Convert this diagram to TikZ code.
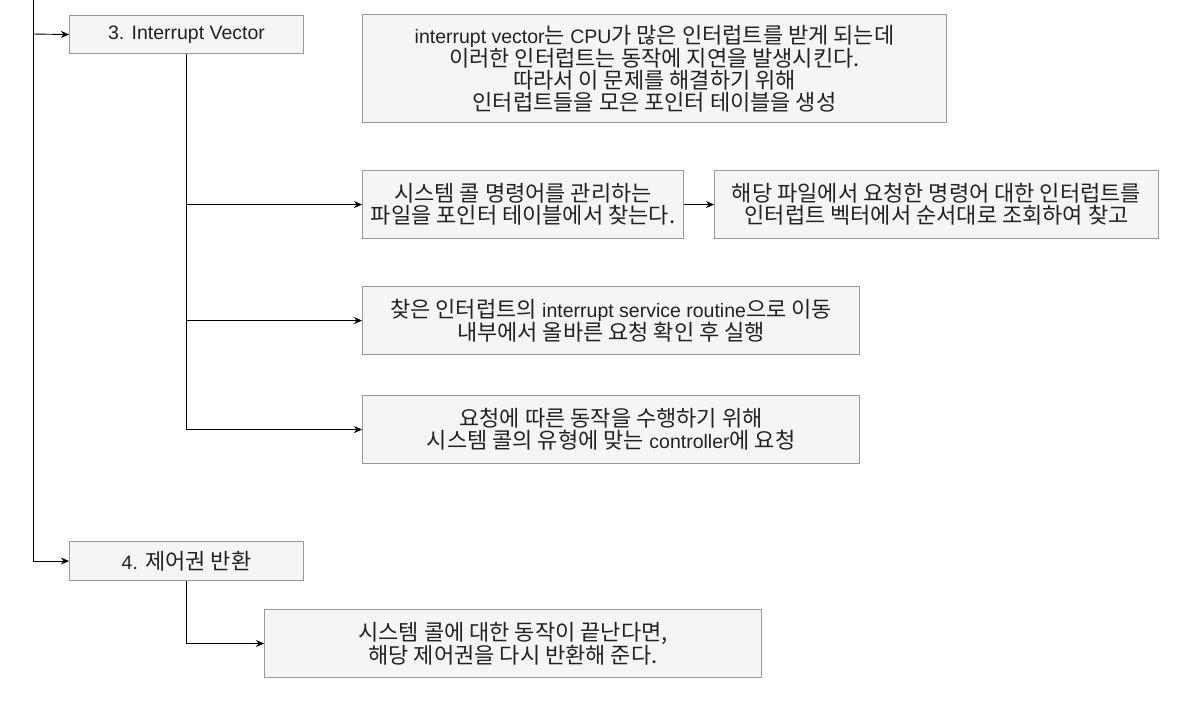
\documentclass[tikz,border=0pt]{standalone}
\usepackage{fontspec}
\setmainfont{Liberation Sans}
\newfontfamily\krfont{Noto Sans CJK KR}
\newcommand\K[1]{{\krfont\fontsize{22}{22}\selectfont #1}}
\usetikzlibrary{arrows.meta}
\definecolor{boxfill}{HTML}{F5F5F5}
\definecolor{boxline}{HTML}{999999}
\definecolor{txt}{HTML}{222222}
\tikzset{
  box/.style={draw=boxline, fill=boxfill, line width=1.1pt, inner sep=0pt,
    anchor=north west, align=center, text=txt,
    font=\fontsize{19.5}{22}\selectfont},
  conn/.style={draw=black, line width=0.9pt},
  arr/.style={conn, -{Stealth[length=8pt,width=7pt,inset=2.5pt]}}
}
\begin{document}
\begin{tikzpicture}[x=1pt,y=-1pt]
\useasboundingbox (0,0) rectangle (1196,705);
\node[box, minimum width=234pt, minimum height=38pt] (b3) at (69,15) {3. Interrupt Vector};
\node[box, minimum width=584pt, minimum height=108pt] (bT) at (362,14)
  {interrupt vector\K{는} CPU\K{가 많은 인터럽트를 받게 되는데}\\
   \K{이러한 인터럽트는 동작에 지연을 발생시킨다.}\\
   \K{따라서 이 문제를 해결하기 위해}\\
   \K{인터럽트들을 모은 포인터 테이블을 생성}};
\node[box, minimum width=321pt, minimum height=68pt] (bA) at (362,170)
  {\K{시스템 콜 명령어를 관리하는}\\ \K{파일을 포인터 테이블에서 찾는다.}};
\node[box, minimum width=444pt, minimum height=68pt] (bB) at (714,170)
  {\K{해당 파일에서 요청한 명령어 대한 인터럽트를}\\ \K{인터럽트 벡터에서 순서대로 조회하여 찾고}};
\node[box, minimum width=497pt, minimum height=68pt] (bC) at (362,286)
  {\K{찾은 인터럽트의} interrupt service routine\K{으로 이동}\\ \K{내부에서 올바른 요청 확인 후 실행}};
\node[box, minimum width=497pt, minimum height=68pt] (bD) at (362,395)
  {\K{요청에 따른 동작을 수행하기 위해}\\ \K{시스템 콜의 유형에 맞는} controller\K{에 요청}};
\node[box, minimum width=234pt, minimum height=39pt] (b4) at (69,541) {4. \K{제어권 반환}};
\node[box, minimum width=497pt, minimum height=68pt] (bF) at (264,609)
  {\K{시스템 콜에 대한 동작이 끝난다면,}\\ \K{해당 제어권을 다시 반환해 준다.}};
\coordinate (top) at (33,0);
\coordinate (j3) at (33,34);
\draw[arr] (top) |- (b4.west);
\draw[arr] (j3) -- (b3.west);
\draw[arr] (b3.south) |- (bD.west);
\draw[arr] (b3.south |- bA.west) -- (bA.west);
\draw[arr] (b3.south |- bC.west) -- (bC.west);
\draw[arr] (bA.east) -- (bB.west);
\draw[arr] (b4.south) |- (bF.west);
\end{tikzpicture}
\end{document}
